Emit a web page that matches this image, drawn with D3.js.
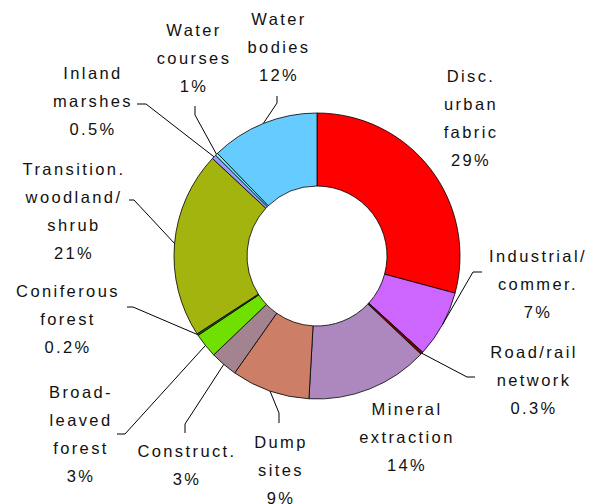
<!DOCTYPE html>
<html>
<head>
<meta charset="utf-8">
<script src="https://cdn.jsdelivr.net/npm/d3@7"></script>
<style>
  html, body { margin: 0; padding: 0; background: #fff; }
  svg { display: block; }
  text { font-family: "Liberation Sans", Arial, sans-serif; font-size: 16.5px; letter-spacing: 2.4px; fill: #111; }
</style>
</head>
<body>
<svg id="chart" width="602" height="504"></svg>
<script>
// ---- data ----
const categories = [
  "Disc.\nurban\nfabric",
  "Industrial/\ncommer.",
  "Road/rail\nnetwork",
  "Mineral\nextraction",
  "Dump\nsites",
  "Construct.",
  "Broad-\nleaved\nforest",
  "Coniferous\nforest",
  "Transition.\nwoodland/\nshrub",
  "Inland\nmarshes",
  "Water\ncourses",
  "Water\nbodies"
];
const values = [29.3, 7.6, 0.3, 13.9, 8.9, 3.1, 2.8, 0.2, 21.2, 0.5, 0.3, 12.3];
const percentLabels = ["29%", "7%", "0.3%", "14%", "9%", "3%", "3%", "0.2%", "21%", "0.5%", "1%", "12%"];
const colors = ["#FF0000", "#CC66FF", "#800000", "#AD88BE", "#CC7F66", "#A2838F",
                "#6FE000", "#1F6B1F", "#A3B40F", "#9999FF", "#66FFFF", "#66CCFF"];

// ---- layout ----
const cx = 317, cy = 256, rOuter = 143, rInner = 70, lineH = 28;
// label anchor: centre x, first baseline y; leader: label-side points (outer to inner order)
const labelLayout = [
  { x: 471, y: 82,  leader: null },
  { x: 538, y: 262, leader: [[482, 272], [473, 272]] },
  { x: 534, y: 358, leader: [[475, 377], [467, 377]] },
  { x: 407, y: 415, leader: null },
  { x: 281, y: 448, leader: [[279, 423], [279, 413]] },
  { x: 187, y: 457, leader: [[185, 433], [185, 424]] },
  { x: 81,  y: 398, leader: [[117, 434], [125, 434]] },
  { x: 68,  y: 297, leader: [[127, 307], [133, 307]] },
  { x: 74,  y: 175, leader: [[129, 200], [134, 200]] },
  { x: 93,  y: 79,  leader: [[137, 104], [146, 104]] },
  { x: 194, y: 36,  leader: [[195, 106], [195, 115]] },
  { x: 279, y: 25,  leader: [[277, 96], [277, 103]] }
];

const svg = d3.select("#chart");
const g = svg.append("g").attr("transform", `translate(${cx},${cy})`);

const pie = d3.pie().sort(null).value(d => d).startAngle(0).endAngle(2 * Math.PI);
const arcs = pie(values);
const arc = d3.arc().innerRadius(rInner).outerRadius(rOuter);

g.selectAll("path.slice")
  .data(arcs)
  .enter().append("path")
  .attr("class", "slice")
  .attr("d", arc)
  .attr("fill", (d, i) => colors[i])
  .attr("stroke", "#000")
  .attr("stroke-width", 0.8)
  .attr("stroke-linejoin", "round");

// leaders
const line = d3.line();
arcs.forEach((d, i) => {
  const L = labelLayout[i];
  if (!L.leader) return;
  const a = (d.startAngle + d.endAngle) / 2;
  const end = [cx + rOuter * Math.sin(a), cy - rOuter * Math.cos(a)];
  const pts = L.leader.concat([end]);
  svg.append("path")
    .attr("d", line(pts))
    .attr("fill", "none")
    .attr("stroke", "#000")
    .attr("stroke-width", 1);
});

// labels
categories.forEach((c, i) => {
  const L = labelLayout[i];
  const lines = c.split("\n").concat([percentLabels[i]]);
  const t = svg.append("text")
    .attr("text-anchor", "middle");
  lines.forEach((s, k) => {
    t.append("tspan")
      .attr("x", L.x)
      .attr("y", L.y + k * lineH)
      .text(s);
  });
});
</script>
</body>
</html>
